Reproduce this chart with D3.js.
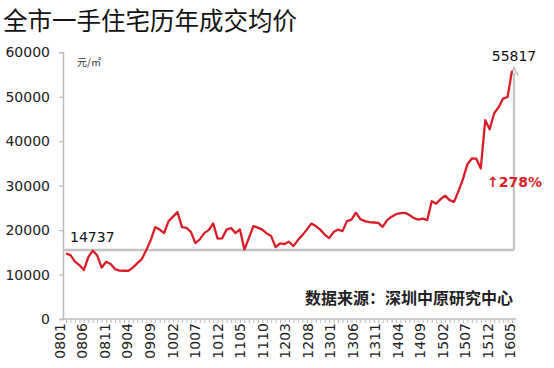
<!DOCTYPE html>
<html><head><meta charset="utf-8">
<script src="https://cdn.jsdelivr.net/npm/d3@7"></script>
<style>body{margin:0;background:#fff;} svg{display:block;}</style>
</head><body>
<svg id="c" width="554" height="368"></svg>
<script>
const title = "全市一手住宅历年成交均价";
const unitLabel = "元/㎡";
const sourceLabel = "数据来源：深圳中原研究中心";
const yTicks = [0, 10000, 20000, 30000, 40000, 50000, 60000];
// months 0801 .. 1605
const months = [];
for (let y = 8; y <= 16; y++) for (let m = 1; m <= 12; m++) {
  if (y === 16 && m > 5) break;
  months.push(String(y).padStart(2,"0") + String(m).padStart(2,"0"));
}
const tickLabels = ["0801","0806","0811","0904","0909","1002","1007","1012","1105","1110","1203","1208","1301","1306","1311","1404","1409","1502","1507","1512","1605"];
const prices = [
 14737,14380,12920,12130,11010,13930,15390,14270,11570,12880,
 12360,11240,10900,10850,10850,11570,12580,13480,15500,17750,
 20670,20110,19320,22020,23030,24040,20670,20520,19620,17080,
 17910,19320,20000,21500,18090,18130,20110,20450,19320,20160,
 15620,18200,20900,20560,20110,19260,18650,16180,17010,16850,
 17370,16400,17750,18870,20110,21460,20900,20110,18990,18200,
 19550,20110,19770,22020,22360,23930,22470,22020,21800,21710,
 21640,20740,22250,23030,23590,23820,23890,23410,22690,22360,
 22580,22250,26510,25950,26960,27750,26740,26360,28760,31460,
 34830,36110,36060,33860,44720,42690,46290,47640,49590,49950,
 55817];
const startLabel = "14737";
const endLabel = "55817";
const growthLabel = "↑278%";
const refValue = 15500;

const svg = d3.select("#c");
const y = d3.scaleLinear().domain([0, 60000]).range([319, 52.3]);
const x = d3.scalePoint().domain(months).range([66, 512]);
const xLab = d3.scalePoint().domain(months).range([59.5, 510]);
const gray = "#bdbdbd";
const font = "DejaVu Sans, sans-serif";

svg.append("text").attr("x", 3).attr("y", 30).text(title)
  .attr("font-family", "Noto Sans CJK SC").attr("font-size", 24.5).attr("fill", "#111");

// y axis
const yAxis = svg.append("g").attr("transform", "translate(63,0)")
  .call(d3.axisLeft(y).tickValues(yTicks).tickSize(4).tickPadding(9).tickFormat(d3.format("d")));
yAxis.select(".domain").attr("stroke", gray).attr("stroke-width", 1.5);
yAxis.selectAll(".tick line").attr("stroke", gray).attr("stroke-width", 1.2);
yAxis.selectAll("text").attr("font-family", font).attr("font-size", 14).attr("fill", "#222");

// x axis ticks (every month)
const xAxis = svg.append("g").attr("transform", "translate(0,319)")
  .call(d3.axisBottom(x).tickSize(4).tickFormat(""));
xAxis.select(".domain").attr("stroke", gray).attr("stroke-width", 1.5).attr("d", "M63,0H516");
xAxis.selectAll(".tick line").attr("stroke", gray).attr("stroke-width", 1);

// x labels
const xLabAxis = svg.append("g").attr("transform", "translate(0,319)")
  .call(d3.axisBottom(xLab).tickValues(tickLabels).tickSize(0).tickPadding(0));
xLabAxis.select(".domain").remove();
xLabAxis.selectAll("text").attr("font-family", font).attr("font-size", 14).attr("fill", "#222")
  .attr("transform", "rotate(-90)").attr("text-anchor", "end")
  .attr("x", -4).attr("y", 0).attr("dy", "0.35em");

// reference line
svg.append("line").attr("x1", 63).attr("x2", x(months[months.length-1]) + 2)
  .attr("y1", y(refValue)).attr("y2", y(refValue))
  .attr("stroke", "#c4c4c4").attr("stroke-width", 2.5);
// vertical arrow
const ax = x(months[months.length-1]) + 2;
svg.append("line").attr("x1", ax).attr("x2", ax)
  .attr("y1", y(refValue)).attr("y2", y(prices[prices.length-1]) + 2)
  .attr("stroke", "#c4c4c4").attr("stroke-width", 2.2);
svg.append("path")
  .attr("d", `M${ax-4},${y(prices[prices.length-1])+5}L${ax},${y(prices[prices.length-1])-3}L${ax+4},${y(prices[prices.length-1])+5}`)
  .attr("fill", "none").attr("stroke", "#c4c4c4").attr("stroke-width", 2);

// data line
svg.append("path").datum(prices)
  .attr("d", d3.line().x((d, i) => x(months[i])).y(d => y(d)))
  .attr("fill", "none").attr("stroke", "#d81e28").attr("stroke-width", 2.3)
  .attr("stroke-linejoin", "round");

// annotations
svg.append("text").attr("x", 70).attr("y", 242).text(startLabel)
  .attr("font-family", font).attr("font-size", 14).attr("fill", "#111");
svg.append("text").attr("x", 514).attr("y", 61).attr("text-anchor", "middle").text(endLabel)
  .attr("font-family", font).attr("font-size", 14).attr("fill", "#111");
svg.append("text").attr("x", 487).attr("y", 187).text(growthLabel)
  .attr("font-family", font).attr("font-size", 14).attr("font-weight", "bold").attr("fill", "#d81e28");
svg.append("text").attr("x", 77).attr("y", 66).text(unitLabel)
  .attr("font-family", "Noto Sans CJK SC").attr("font-size", 10).attr("fill", "#333");
svg.append("text").attr("x", 305).attr("y", 304).text(sourceLabel)
  .attr("font-family", "Noto Sans CJK SC").attr("font-size", 16).attr("font-weight", "bold").attr("fill", "#222");
</script>
</body></html>
